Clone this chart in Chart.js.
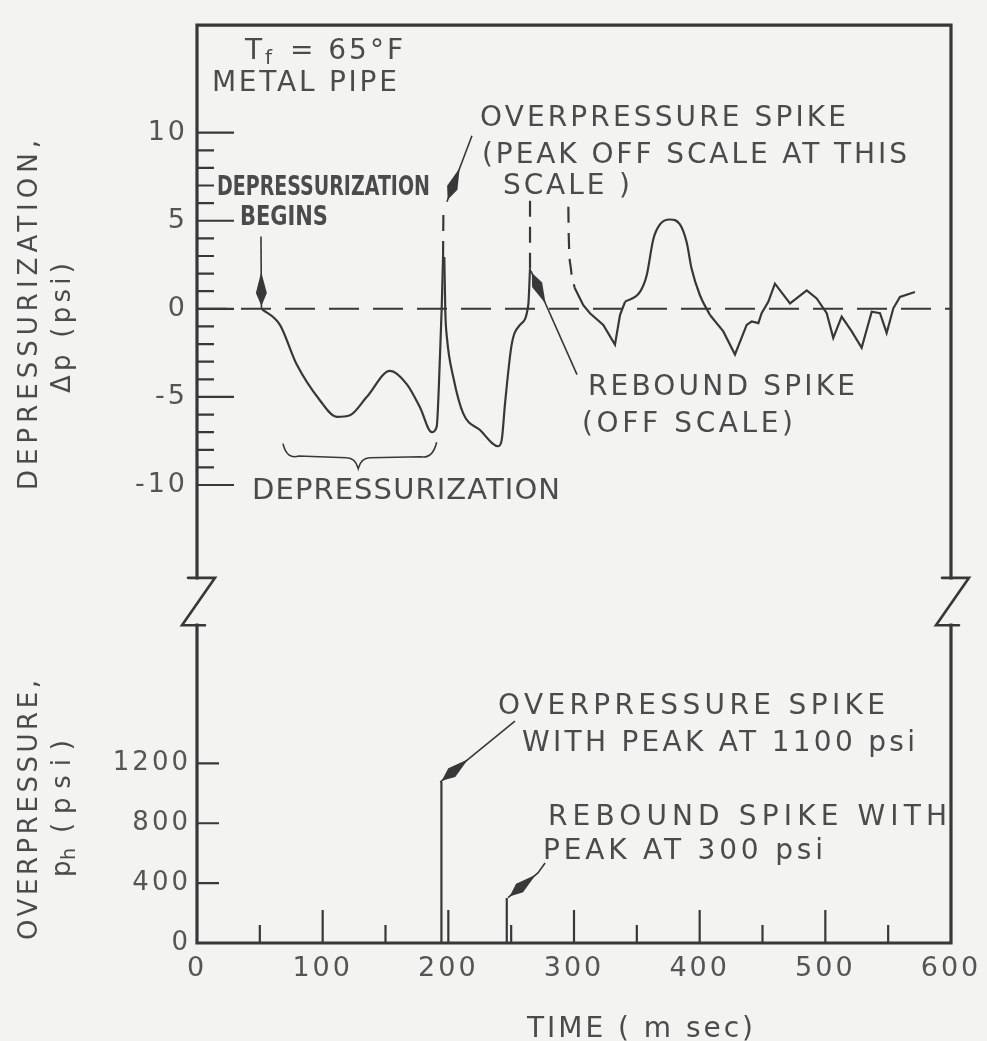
<!DOCTYPE html>
<html>
<head>
<meta charset="utf-8">
<script src="https://cdn.jsdelivr.net/npm/chart.js@4.4.1/dist/chart.umd.min.js"></script>
<style>
  html, body { margin: 0; padding: 0; background: #f3f3f1; }
  canvas { display: block; }
</style>
</head>
<body>
<canvas id="grafico" width="987" height="1041"></canvas>
<script>
// time in ms, pressure in psi
const tDepress = [51.5, 66, 79.3, 97.9, 111.2, 121.7, 135, 153.6, 166.9, 177.5, 186.8, 190.7, 193.4, 194.7, 195.8];
const pDepress = [0, -0.91, -3.15, -5.2, -6.13, -6.04, -5.01, -3.52, -4.27, -5.6, -7.0, -6.7, -2.6, 0, 2.94];
const tSpikeOff = [195.8, 196.1];          // overpressure spike, off scale (dashed)
const pSpikeOff = [2.94, 5.8];
const tFall = [196.8, 197.6, 198.9, 204, 211.9, 225.2, 239.8, 242.5, 245.1, 250.4, 257, 263.6, 265];
const pFall = [2.94, -0.16, -1.65, -3.9, -5.95, -6.88, -7.8, -7.44, -5.39, -2.03, -0.91, 0.21, 2.27];
const tReboundOff = [265, 265];           // rebound spike, off scale (dashed)
const pReboundOff = [2.27, 6.5];
const tDecay = [295.5, 295.8, 297.5, 300.5]; // dashed return of the rebound spike
const pDecay = [5.8, 4.2, 2.3, 1.2];
const tWaveA = [300.5, 307.4, 312.7, 323.3, 332.6, 336.6, 340.6];
const pWaveA = [1.2, 0.21, -0.25, -0.91, -2.03, -0.35, 0.4];
const tBump = [340.6, 352.5, 357.8, 363.1, 368.4, 376.4, 384.3, 389.7, 393.6, 400.2, 408.2];
const pBump = [0.4, 0.96, 1.89, 3.95, 4.79, 5.07, 4.79, 3.76, 2.27, 0.77, -0.35];
const tTail = [408.2, 418.8, 428.1, 437.4, 441.4, 446.7, 449.3, 454.6, 459.9, 471.9, 485.2, 493.1, 501.1, 506.3, 513.0, 521.0, 528.9, 536.9, 543.5, 548.8, 554.1, 559.4, 571.3];
const pTail = [-0.35, -1.28, -2.59, -0.91, -0.72, -0.81, -0.25, 0.4, 1.43, 0.31, 1.05, 0.59, -0.25, -1.65, -0.44, -1.28, -2.21, -0.16, -0.25, -1.37, 0.03, 0.68, 0.96];
const tZero = [0, 600];
const pZero = [0, 0];

// lower panel: overpressure p_h
const tOverSpike = [194.5, 194.5];
const hOverSpike = [0, 1075];
const tReboundSpike = [246.5, 246.5];
const hReboundSpike = [0, 300];

// ticks
const upTicks = [-10, -5, 0, 5, 10];
const upMinor = [-9, -8, -7, -6, -4, -3, -2, -1, 1, 2, 3, 4, 6, 7, 8, 9];
const loTicks = [0, 400, 800, 1200];
const xTicks = [0, 100, 200, 300, 400, 500, 600];
const xMinor = [50, 150, 250, 350, 450, 550];

const ink = '#383838';
const textInk = '#4b4b4b';
const FONT = '"DejaVu Sans", sans-serif';

function serie(t, p) {
    return t.map((x, i) => ({x: x, y: p[i]}));
}

// text with spacing (or squeeze) so that it spans w pixels
function drawText(ctx, s, x, y, size, w, opt = {}) {
    ctx.save();
    ctx.font = `${opt.bold ? 'bold ' : ''}${size}px ${FONT}`;
    ctx.fillStyle = opt.color || textInk;
    ctx.textBaseline = 'middle';
    ctx.textAlign = 'left';
    ctx.letterSpacing = '0px';
    ctx.translate(x, y);
    if (opt.rot) ctx.rotate(opt.rot);
    const w0 = ctx.measureText(s).width;
    if (opt.center) ctx.translate(-w / 2, 0);
    if (w) {
        if (w >= w0) ctx.letterSpacing = ((w - w0) / Math.max(1, s.length - 1)) + 'px';
        else ctx.scale(w / w0, 1);
    }
    ctx.fillText(s, 0, 0);
    ctx.restore();
}

function arrow(ctx, pts) {
    ctx.save();
    ctx.strokeStyle = ink;
    ctx.fillStyle = ink;
    ctx.lineWidth = 1.6;
    ctx.beginPath();
    ctx.moveTo(pts[0][0], pts[0][1]);
    pts.slice(1).forEach(p => ctx.lineTo(p[0], p[1]));
    ctx.stroke();
    const a = pts[pts.length - 2], b = pts[pts.length - 1];
    const len = Math.hypot(b[0] - a[0], b[1] - a[1]);
    const ux = (b[0] - a[0]) / len, uy = (b[1] - a[1]) / len;
    const at = d => [b[0] - ux * d, b[1] - uy * d];
    const p1 = at(2), p2 = at(15), p3 = at(36);
    ctx.beginPath();
    ctx.moveTo(p1[0], p1[1]);
    ctx.lineTo(p2[0] - uy * 5.5, p2[1] + ux * 5.5);
    ctx.lineTo(p3[0], p3[1]);
    ctx.lineTo(p2[0] + uy * 5.5, p2[1] - ux * 5.5);
    ctx.closePath();
    ctx.fill();
    ctx.restore();
}

// notes inside the two panels, anchored in data units
const notesUp = [
    {s: 'METAL PIPE', x: 11.9, y: 12.77, w: 185},
    {s: 'OVERPRESSURE SPIKE', x: 225.2, y: 10.78, w: 366},
    {s: '(PEAK OFF SCALE AT THIS', x: 226.8, y: 8.71, w: 425},
    {s: 'SCALE )', x: 243.5, y: 6.92, w: 127},
    {s: 'DEPRESSURIZATION', x: 15.9, y: 6.86, w: 213, bold: true, size: 27},
    {s: 'BEGINS', x: 34.2, y: 5.18, w: 88, bold: true, size: 27},
    {s: 'DEPRESSURIZATION', x: 43.8, y: -10.34, w: 308, size: 29},
    {s: 'REBOUND SPIKE', x: 311.1, y: -4.45, w: 267},
    {s: '(OFF SCALE)', x: 306.4, y: -6.58, w: 211}
];
const notesLo = [
    {s: 'OVERPRESSURE SPIKE', x: 239.5, y: 1576, w: 387},
    {s: 'WITH PEAK AT 1100 psi', x: 258.6, y: 1332, w: 393},
    {s: 'REBOUND SPIKE WITH', x: 279.3, y: 837, w: 399},
    {s: 'PEAK AT 300 psi', x: 275.3, y: 613, w: 280}
];
const arrowsUp = [
    [[50.9, 4.1], [51.3, 0.05]],
    [[218.8, 9.83], [198.9, 6.08]],
    [[302.4, -3.73], [265.8, 2.15]]
];
const arrowsLo = [
    [[253, 1483], [193.5, 1075]],
    [[277, 534], [271.3, 468], [247.5, 303]]
];
const brace = [[68.4, -7.65], [76.3, -8.35], [119, -8.45], [128.3, -9.06], [137.6, -8.45], [182.8, -8.4], [190.7, -7.57]];

const figurePlugin = {
    id: 'figura',
    beforeDraw(chart) {
        const ctx = chart.ctx;
        ctx.save();
        ctx.fillStyle = '#f3f3f1';
        ctx.fillRect(0, 0, chart.width, chart.height);
        ctx.restore();
        ctx.letterSpacing = '3px'; // spaced tick digits like the lettering guide
    },
    afterDraw(chart) {
        const ctx = chart.ctx;
        ctx.letterSpacing = '0px';
        const {x, yUp, yLo} = chart.scales;
        const L = chart.chartArea.left, R = chart.chartArea.right;
        const T = chart.chartArea.top, B = chart.chartArea.bottom;
        const b1 = yUp.bottom, b2 = yLo.top - 2;
        const px = v => x.getPixelForValue(v);

        ctx.save();
        ctx.strokeStyle = ink;
        ctx.lineCap = 'square';
        ctx.lineJoin = 'miter';
        // frame with axis breaks
        ctx.lineWidth = 3.2;
        ctx.beginPath();
        ctx.moveTo(L, b1); ctx.lineTo(L, T); ctx.lineTo(R, T); ctx.lineTo(R, b1);
        ctx.moveTo(L, b2); ctx.lineTo(L, B); ctx.lineTo(R, B); ctx.lineTo(R, b2);
        ctx.stroke();
        ctx.lineWidth = 2.6;
        ctx.lineCap = 'round';
        [L, R].forEach(ax => {
            ctx.beginPath();
            ctx.moveTo(ax - 9, b1); ctx.lineTo(ax + 18, b1);
            ctx.lineTo(ax - 15, b2); ctx.lineTo(ax + 8, b2);
            ctx.stroke();
        });
        // inner ticks
        ctx.lineWidth = 2.2;
        ctx.lineCap = 'butt';
        ctx.beginPath();
        upTicks.forEach(v => { const y = yUp.getPixelForValue(v); ctx.moveTo(L, y); ctx.lineTo(L + 37, y); });
        upMinor.forEach(v => { const y = yUp.getPixelForValue(v); ctx.moveTo(L, y); ctx.lineTo(L + 17, y); });
        loTicks.slice(1).forEach(v => { const y = yLo.getPixelForValue(v); ctx.moveTo(L, y); ctx.lineTo(L + 22, y); });
        xTicks.slice(1, -1).forEach(v => { ctx.moveTo(px(v), B); ctx.lineTo(px(v), B - 33); });
        xMinor.forEach(v => { ctx.moveTo(px(v), B); ctx.lineTo(px(v), B - 18); });
        ctx.stroke();

        // brace under the depressurization dip
        const bp = brace.map(p => [px(p[0]), yUp.getPixelForValue(p[1])]);
        ctx.lineWidth = 1.6;
        ctx.beginPath();
        ctx.moveTo(bp[0][0], bp[0][1]);
        ctx.quadraticCurveTo(bp[1][0] - 6, bp[1][1] + 4, bp[1][0] + 6, bp[1][1]);
        ctx.lineTo(bp[2][0], bp[2][1]);
        ctx.quadraticCurveTo(bp[3][0] - 3, bp[2][1], bp[3][0], bp[3][1]);
        ctx.quadraticCurveTo(bp[3][0] + 3, bp[4][1], bp[4][0], bp[4][1]);
        ctx.lineTo(bp[5][0] - 6, bp[5][1]);
        ctx.quadraticCurveTo(bp[5][0] + 6, bp[5][1] + 2, bp[6][0], bp[6][1]);
        ctx.stroke();
        ctx.restore();

        arrowsUp.forEach(a => arrow(ctx, a.map(p => [px(p[0]), yUp.getPixelForValue(p[1])])));
        arrowsLo.forEach(a => arrow(ctx, a.map(p => [px(p[0]), yLo.getPixelForValue(p[1])])));

        notesUp.forEach(n => drawText(ctx, n.s, px(n.x), yUp.getPixelForValue(n.y), n.size || 28, n.w, {bold: n.bold}));
        notesLo.forEach(n => drawText(ctx, n.s, px(n.x), yLo.getPixelForValue(n.y), n.size || 28, n.w));

        // T_f = 65°F
        const tfx = px(38.2), tfy = yUp.getPixelForValue(14.59);
        drawText(ctx, 'T', tfx, tfy, 28);
        drawText(ctx, 'f', tfx + 20, tfy + 7, 20);
        drawText(ctx, '= 65°F', tfx + 45, tfy, 28, 113);

        // axis titles
        const up = -Math.PI / 2;
        drawText(ctx, 'DEPRESSURIZATION,', 30, 315, 26, 350, {rot: up, center: true});
        drawText(ctx, 'Δp (psi)', 63, 328, 26, 130, {rot: up, center: true});
        drawText(ctx, 'OVERPRESSURE,', 30, 810, 26, 260, {rot: up, center: true});
        ctx.save();
        ctx.translate(63, 877);
        ctx.rotate(up);
        drawText(ctx, 'p', 0, 0, 26);
        drawText(ctx, 'h', 17, 7, 19);
        drawText(ctx, '(psi)', 44, 0, 26, 93);
        ctx.restore();
        drawText(ctx, 'TIME ( m sec)', 527, 1030, 28, 226);
    }
};

const lineBase = {borderColor: ink, borderWidth: 2.2, pointRadius: 0, fill: false, yAxisID: 'yUp'};
const dashed = {borderDash: [16, 10]};
const smooth = {cubicInterpolationMode: 'monotone'};

const chart = new Chart(document.getElementById('grafico'), {
    type: 'line',
    data: {
        datasets: [
            {...lineBase, data: serie(tZero, pZero), borderWidth: 2, borderDash: [30, 14]},
            {...lineBase, ...smooth, data: serie(tDepress, pDepress)},
            {...lineBase, ...dashed, data: serie(tSpikeOff, pSpikeOff)},
            {...lineBase, ...smooth, data: serie(tFall, pFall)},
            {...lineBase, ...dashed, data: serie(tReboundOff, pReboundOff)},
            {...lineBase, ...dashed, ...smooth, data: serie(tDecay, pDecay)},
            {...lineBase, data: serie(tWaveA, pWaveA)},
            {...lineBase, ...smooth, data: serie(tBump, pBump)},
            {...lineBase, data: serie(tTail, pTail)},
            {...lineBase, yAxisID: 'yLo', data: serie(tOverSpike, hOverSpike)},
            {...lineBase, yAxisID: 'yLo', data: serie(tReboundSpike, hReboundSpike)}
        ]
    },
    options: {
        responsive: false,
        animation: false,
        layout: {padding: {top: 13, right: 36, left: 0, bottom: 0}},
        plugins: {legend: {display: false}, tooltip: {enabled: false}},
        scales: {
            x: {
                type: 'linear', position: 'bottom', min: 0, max: 600,
                afterBuildTicks: s => { s.ticks = xTicks.map(v => ({value: v})); },
                afterFit: s => { s.height = 98; },
                grid: {display: false, drawTicks: false},
                border: {display: false},
                ticks: {autoSkip: false, maxRotation: 0, padding: 10, color: '#555', font: {family: FONT, size: 27}, callback: v => String(v)}
            },
            yLo: {
                type: 'linear', position: 'left', stack: 'panels', stackWeight: 320, min: 0, max: 2110,
                afterBuildTicks: s => { s.ticks = loTicks.map(v => ({value: v})); },
                afterFit: s => { s.width = 197; },
                grid: {display: false, drawTicks: false},
                border: {display: false},
                ticks: {autoSkip: false, padding: 6, color: '#555', font: {family: FONT, size: 26}, callback: v => String(v)}
            },
            yGap: {
                type: 'linear', position: 'left', stack: 'panels', stackWeight: 50, min: 0, max: 1,
                afterFit: s => { s.width = 197; },
                grid: {display: false, drawTicks: false},
                border: {display: false},
                ticks: {display: false}
            },
            yUp: {
                type: 'linear', position: 'left', stack: 'panels', stackWeight: 560, min: -15.27, max: 16.1,
                afterBuildTicks: s => { s.ticks = upTicks.map(v => ({value: v})); },
                afterFit: s => { s.width = 197; },
                grid: {display: false, drawTicks: false},
                border: {display: false},
                ticks: {autoSkip: false, padding: 9, color: '#555', font: {family: FONT, size: 27}, callback: v => String(v)}
            }
        }
    },
    plugins: [figurePlugin]
});
</script>
</body>
</html>
